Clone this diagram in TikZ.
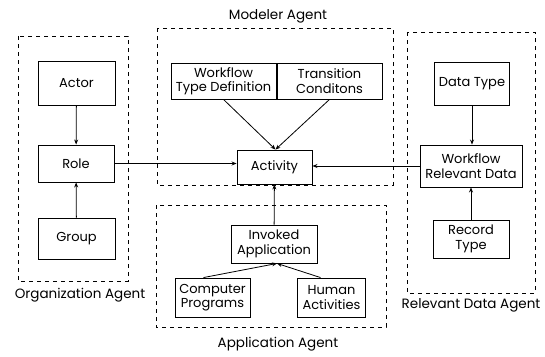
\documentclass[tikz,border=0pt]{standalone}
\usepackage{fontspec}
\setmainfont{Poppins}
\usetikzlibrary{arrows.meta}
\begin{document}
\begin{tikzpicture}[x=1pt,y=-1pt,
  box/.style={draw, line width=0.9pt, align=center, inner sep=0pt, font=\fontsize{13}{14.5}\selectfont},
  agent/.style={draw, dash pattern=on 4pt off 4pt, line width=0.9pt},
  lbl/.style={font=\fontsize{13.5}{15}\selectfont, inner sep=0pt},
  arr/.style={-{Stealth[length=5pt,width=4pt]}, line width=0.8pt}]
\useasboundingbox[fill=white] (0,0) rectangle (545,356);

% agent frames
\draw[agent] (18,36) rectangle (128,281);
\draw[agent] (157,28) rectangle (393,185);
\draw[agent] (156,205) rectangle (386,327);
\draw[agent] (407,32) rectangle (535,293);

\node[lbl] (orgl) at (80,295) {Organization Agent};
\node[lbl] (modl) at (278,16) {Modeler Agent};
\node[lbl] (appl) at (278,344) {Application Agent};
\node[lbl] (rell) at (471,305) {Relevant Data Agent};

% organization
\node[box, minimum width=77pt, minimum height=44pt] (actor) at (76.5,83) {Actor};
\node[box, minimum width=76pt, minimum height=37pt] (role) at (76,163.5) {Role};
\node[box, minimum width=77pt, minimum height=41pt] (group) at (76.5,238.5) {Group};

% modeler
\node[box, minimum width=105pt, minimum height=36pt] (wtd) at (223.5,81) {Workflow\\Type Definition};
\node[box, minimum width=105pt, minimum height=36pt] (tc) at (329.5,81) {Transition\\Conditons};
\node[box, minimum width=75pt, minimum height=34pt] (act) at (274.5,167) {Activity};

% application
\node[box, minimum width=86pt, minimum height=38pt] (inv) at (274,244) {Invoked\\Application};
\node[box, minimum width=75pt, minimum height=39pt] (cp) at (212.5,297.5) {Computer\\Programs};
\node[box, minimum width=68pt, minimum height=39pt] (ha) at (331.5,297.5) {Human\\Activities};

% relevant data
\node[box, minimum width=75pt, minimum height=43pt] (dt) at (472,83.5) {Data Type};
\node[box, minimum width=102pt, minimum height=42pt] (wrd) at (471,166) {Workflow\\Relevant Data};
\node[box, minimum width=76pt, minimum height=38pt] (rt) at (471,239) {Record\\Type};

% connectors
\draw[arr] (actor) -- (role);
\draw[arr] (group) -- (role);
\draw[arr] (role.east) -- (role.east -| act.west);
\draw[arr] (wrd.west) -- (wrd.west -| act.east);
\coordinate (acttop) at ([xshift=1pt]act.north);
\draw[arr] (wtd.south) -- (acttop);
\draw[arr] (tc.south) -- (acttop);
\draw[arr] (inv) -- (act);
\coordinate (invbot) at ([xshift=3pt]inv.south);
\draw[arr] ([xshift=-9pt]cp.north) -- (invbot);
\draw[arr] ([xshift=-11pt]ha.north) -- (invbot);
\draw[arr] (dt.south) -- (dt.south |- wrd.north);
\draw[arr] (rt.north) -- (rt.north |- wrd.south);
\end{tikzpicture}
\end{document}
